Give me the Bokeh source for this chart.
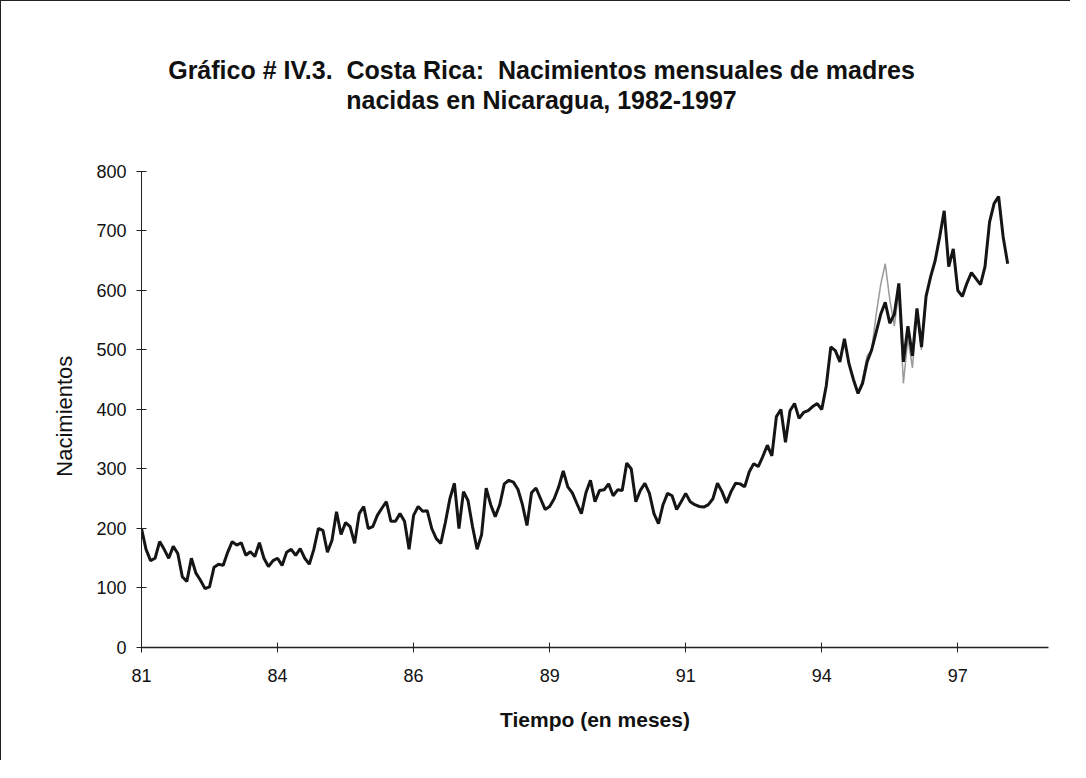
from bokeh.plotting import figure
from bokeh.models import FixedTicker, Label
from bokeh.embed import file_html
from bokeh.resources import INLINE

# Nacimientos mensuales (enero 1982 - diciembre 1997), serie principal
nacimientos = [
    200, 165, 146, 150, 178, 165, 150, 170, 158, 119,
    111, 150, 125, 113, 99, 102, 135, 140, 138, 160,
    178, 172, 176, 155, 161, 153, 176, 150, 136, 146,
    150, 138, 160, 165, 155, 166, 150, 140, 165, 200,
    197, 160, 180, 228, 190, 210, 203, 175, 225, 237,
    200, 203, 222, 234, 245, 212, 212, 225, 212, 165,
    222, 237, 229, 230, 200, 183, 175, 210, 250, 276,
    200, 262, 247, 203, 165, 190, 268, 240, 220, 240,
    275, 281, 278, 266, 240, 205, 260, 268, 250, 232,
    237, 250, 270, 297, 270, 260, 242, 225, 260, 281,
    245, 264, 265, 275, 255, 265, 264, 310, 300, 245,
    264, 276, 259, 225, 208, 240, 259, 255, 232, 245,
    259, 245, 240, 237, 236, 240, 250, 276, 262, 243,
    262, 276, 275, 270, 295, 309, 304, 321, 340, 322,
    388, 400, 345, 398, 410, 385, 395, 398, 405, 410,
    400, 440, 505, 499, 480, 519, 477, 450, 427, 444,
    480, 500, 530, 560, 580, 545, 560, 612, 480, 540,
    490, 570, 505, 590, 623, 650, 690, 734, 640, 670,
    600, 590, 612, 630, 620, 610, 640, 715, 746, 758,
    690, 645,
]

# Tramo de la serie gris (visible aparte entre 1995 y 1996)
gris_inicio = 158
nacimientos_gris = [427, 450, 490, 500, 560, 610, 645, 585, 540, 600,
                    444, 520, 470, 560, 500]

ticks_meses = [0, 30, 60, 90, 120, 150, 180]
ticks_etiquetas = ["81", "84", "86", "89", "91", "94", "97"]
ticks_y = [0, 100, 200, 300, 400, 500, 600, 700, 800]

titulo_1 = "Gráfico # IV.3.\u00a0 Costa Rica:\u00a0 Nacimientos mensuales de madres"
titulo_2 = "nacidas en Nicaragua, 1982-1997"
etiqueta_y = "Nacimientos"
etiqueta_x = "Tiempo (en meses)"

meses = list(range(len(nacimientos)))
meses_gris = list(range(gris_inicio, gris_inicio + len(nacimientos_gris)))

FONT = "Liberation Sans"
Y_TOP = 1085.7   # the frame reaches the top of the chart; the axis stops at 800
# trailing no-break spaces centre the y label on the 0-800 part of the axis
RELLENO_Y = "\u00a0" * 30

p = figure(width=1070, height=760, x_range=(0, 200), y_range=(0, Y_TOP),
           output_backend="svg", toolbar_location=None,
           min_border_left=140, min_border_right=23,
           min_border_top=0, min_border_bottom=114)
p.outline_line_color = None
p.grid.visible = False
p.background_fill_color = "white"
p.border_fill_color = "white"
p.styles = {"border-left": "1.5px solid #222", "border-top": "1.5px solid #222"}

p.line(meses_gris, nacimientos_gris, color="#9a9a9a", line_width=1.5)
p.line(meses, nacimientos, color="#151515", line_width=3)

# Título en dos líneas, centrado en el área del gráfico
for texto, yv in ((titulo_1, 971), (titulo_2, 920)):
    p.add_layout(Label(x=88.2, y=yv, text=texto, text_align="center",
                       text_baseline="middle", text_font=FONT,
                       text_font_size="25px", text_font_style="bold",
                       text_color="#111"))

xa = p.xaxis[0]
xa.ticker = FixedTicker(ticks=ticks_meses)
xa.bounds = (0, 200)
xa.major_label_overrides = {t: l for t, l in zip(ticks_meses, ticks_etiquetas)}
xa.major_tick_in = 5
xa.major_tick_out = 5
xa.minor_tick_in = 0
xa.minor_tick_out = 0
xa.axis_line_width = 1.5
xa.axis_line_color = "#222"
xa.major_tick_line_color = "#222"
xa.major_label_standoff = 16
xa.major_label_text_font = FONT
xa.major_label_text_font_size = "18px"
xa.major_label_text_color = "#111"
xa.axis_label = etiqueta_x
xa.axis_label_text_font = FONT
xa.axis_label_text_font_size = "21px"
xa.axis_label_text_font_style = "bold"
xa.axis_label_text_color = "#111"
xa.axis_label_standoff = 23

ya = p.yaxis[0]
ya.ticker = FixedTicker(ticks=ticks_y)
ya.bounds = (0, 800)
ya.major_tick_in = 5
ya.major_tick_out = 5
ya.minor_tick_in = 0
ya.minor_tick_out = 0
ya.axis_line_color = "#222"
ya.major_tick_line_color = "#222"
ya.major_label_standoff = 10
ya.major_label_text_font = FONT
ya.major_label_text_font_size = "18px"
ya.major_label_text_color = "#111"
ya.axis_label = etiqueta_y + RELLENO_Y
ya.axis_label_text_font = FONT
ya.axis_label_text_font_size = "22px"
ya.axis_label_text_font_style = "normal"
ya.axis_label_text_color = "#111"
ya.axis_label_standoff = 16

open("out.html", "w").write(file_html(p, INLINE))
